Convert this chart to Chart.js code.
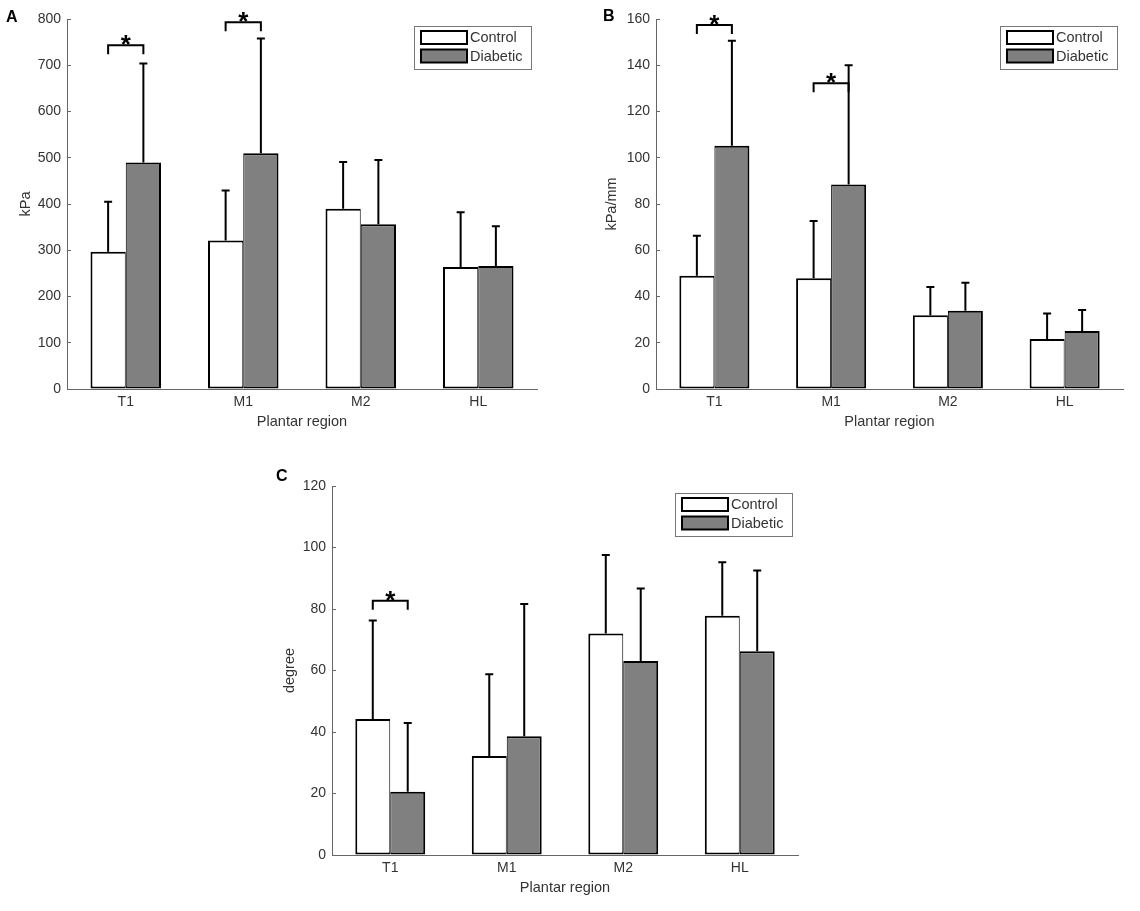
<!DOCTYPE html>
<html>
<head>
<meta charset="utf-8">
<title>Plantar region charts</title>
<script src="https://cdn.jsdelivr.net/npm/chart.js@4.4.1/dist/chart.umd.min.js"></script>
<style>
  body { margin: 0; background: #fff; }
  #page { position: relative; width: 1140px; height: 911px; }
  canvas { position: absolute; }
</style>
</head>
<body>
<div id="page">
  <canvas id="chartA" width="560" height="440" style="left:0;top:0"></canvas>
  <canvas id="chartB" width="570" height="440" style="left:570px;top:0"></canvas>
  <canvas id="chartC" width="560" height="451" style="left:270px;top:460px"></canvas>
</div>
<script>
// Data
const regions = ["T1", "M1", "M2", "HL"];
const groups = ["Control", "Diabetic"];

// A - peak pressure (kPa)
const pressureControl = [297, 321, 390, 264];
const pressureControlSD = [108, 108, 101, 118];
const pressureDiabetic = [490, 510, 356, 266];
const pressureDiabeticSD = [214, 248, 139, 86];
const pressureSig = [{ at: 0, value: 743 }, { at: 1, value: 793 }];

// B - stiffness (kPa/mm)
const stiffControl = [49.0, 47.9, 31.9, 21.6];
const stiffControlSD = [17.3, 24.7, 12.2, 11.1];
const stiffDiabetic = [105.2, 88.4, 33.8, 25.1];
const stiffDiabeticSD = [45.4, 51.6, 12.2, 9.1];
const stiffSig = [{ at: 0, value: 157.4 }, { at: 1, value: 132.2 }];

// C - angle (degree)
const angleControl = [44.2, 32.2, 72.0, 77.8];
const angleControlSD = [32.1, 26.6, 25.6, 17.4];
const angleDiabetic = [20.6, 38.6, 63.1, 66.3];
const angleDiabeticSD = [22.3, 43.0, 23.6, 26.2];
const angleSig = [{ at: 0, value: 82.7 }];

const FONT = "'Liberation Sans', Arial, sans-serif";
const TEXT = "#333";
const AXIS = "#666";

// error bars (upper only), significance brackets, legend box and panel letter
const extrasPlugin = {
  id: "extras",
  afterDatasetsDraw(chart, args, opts) {
    const ctx = chart.ctx;
    const y = chart.scales.y;
    ctx.save();
    ctx.strokeStyle = "#000";
    ctx.lineWidth = 2;
    chart.data.datasets.forEach((ds, i) => {
      chart.getDatasetMeta(i).data.forEach((bar, j) => {
        const top = y.getPixelForValue(ds.data[j] + ds.sd[j]);
        ctx.beginPath();
        ctx.moveTo(bar.x, bar.y);
        ctx.lineTo(bar.x, top);
        ctx.moveTo(bar.x - 4, top);
        ctx.lineTo(bar.x + 4, top);
        ctx.stroke();
      });
    });

    // brackets with star
    opts.sig.forEach(s => {
      const x1 = chart.getDatasetMeta(0).data[s.at].x;
      const x2 = chart.getDatasetMeta(1).data[s.at].x;
      const yv = y.getPixelForValue(s.value);
      ctx.beginPath();
      ctx.moveTo(x1, yv + 9);
      ctx.lineTo(x1, yv);
      ctx.lineTo(x2, yv);
      ctx.lineTo(x2, yv + 9);
      ctx.stroke();
      ctx.fillStyle = "#000";
      ctx.font = "bold 26px " + FONT;
      ctx.textAlign = "center";
      ctx.textBaseline = "alphabetic";
      ctx.fillText("*", (x1 + x2) / 2, yv + 8);
    });
    ctx.restore();
  },
  afterDraw(chart, args, opts) {
    const ctx = chart.ctx;
    const ca = chart.chartArea;
    ctx.save();
    // legend
    const w = 117, h = 43;
    const left = ca.right - 6 - w;
    const top = ca.top + 7;
    ctx.fillStyle = "#fff";
    ctx.fillRect(left, top, w, h);
    ctx.strokeStyle = "#777";
    ctx.lineWidth = 1;
    ctx.strokeRect(left + 0.5, top + 0.5, w, h);
    chart.data.datasets.forEach((ds, i) => {
      const sy = top + 5 + i * 18.5;
      ctx.fillStyle = ds.backgroundColor;
      ctx.fillRect(left + 7, sy, 46, 13);
      ctx.strokeStyle = "#000";
      ctx.lineWidth = 2;
      ctx.strokeRect(left + 7, sy, 46, 13);
      ctx.fillStyle = TEXT;
      ctx.font = "14.5px " + FONT;
      ctx.textAlign = "left";
      ctx.textBaseline = "middle";
      ctx.fillText(ds.label, left + 56, sy + 7);
    });
    // panel letter
    ctx.fillStyle = "#000";
    ctx.font = "bold 16px " + FONT;
    ctx.textAlign = "left";
    ctx.textBaseline = "alphabetic";
    ctx.fillText(opts.letter, opts.letterX, opts.letterY);
    ctx.restore();
  }
};

function makeChart(id, cfg) {
  const datasets = [
    {
      label: groups[0],
      data: cfg.control,
      sd: cfg.controlSD,
      backgroundColor: "#ffffff",
      borderWidth: { top: 2, left: 2, bottom: 2, right: 1 }
    },
    {
      label: groups[1],
      data: cfg.diabetic,
      sd: cfg.diabeticSD,
      backgroundColor: "#808080",
      borderWidth: { top: 2, left: 1, bottom: 2, right: 2 }
    }
  ];
  datasets.forEach(d => {
    d.borderColor = "#000";
    d.borderSkipped = false;
    d.categoryPercentage = 0.6;
    d.barPercentage = 1.0;
  });

  return new Chart(document.getElementById(id), {
    type: "bar",
    data: { labels: regions, datasets: datasets },
    options: {
      responsive: false,
      animation: false,
      devicePixelRatio: 1,
      layout: { padding: { left: 0, top: cfg.padTop, right: cfg.padRight, bottom: 0 } },
      plugins: {
        legend: { display: false },
        tooltip: { enabled: false },
        extras: { sig: cfg.sig, letter: cfg.letter, letterX: cfg.letterX, letterY: cfg.letterY }
      },
      scales: {
        x: {
          grid: { display: false, drawTicks: false },
          border: { display: true, color: AXIS, width: 1 },
          ticks: { color: TEXT, font: { family: FONT, size: 14 }, padding: 5 },
          title: { display: true, text: "Plantar region", color: TEXT, font: { family: FONT, size: 14.5 }, padding: { top: 0, bottom: cfg.xTitlePad } },
          afterFit: s => { s.height = cfg.xHeight; }
        },
        y: {
          min: 0,
          max: cfg.max,
          ticks: { stepSize: cfg.step, color: TEXT, font: { family: FONT, size: 14 }, padding: 10 },
          grid: { drawOnChartArea: false, tickLength: -4, color: AXIS },
          border: { display: true, color: AXIS, width: 1 },
          title: { display: true, text: cfg.yTitle, color: TEXT, font: { family: FONT, size: 14.5 }, padding: { top: cfg.yTitlePad, bottom: 0 } },
          afterFit: s => { s.width = cfg.yWidth; }
        }
      }
    },
    plugins: [extrasPlugin]
  });
}

makeChart("chartA", {
  control: pressureControl, controlSD: pressureControlSD,
  diabetic: pressureDiabetic, diabeticSD: pressureDiabeticSD,
  sig: pressureSig, max: 800, step: 100, yTitle: "kPa",
  padTop: 19, padRight: 23, yWidth: 67, xHeight: 51,
  yTitlePad: 17, xTitlePad: 9.5,
  letter: "A", letterX: 6, letterY: 22
});

makeChart("chartB", {
  control: stiffControl, controlSD: stiffControlSD,
  diabetic: stiffDiabetic, diabeticSD: stiffDiabeticSD,
  sig: stiffSig, max: 160, step: 20, yTitle: "kPa/mm",
  padTop: 19, padRight: 17, yWidth: 86, xHeight: 51,
  yTitlePad: 33, xTitlePad: 9.5,
  letter: "B", letterX: 33, letterY: 21
});

makeChart("chartC", {
  control: angleControl, controlSD: angleControlSD,
  diabetic: angleDiabetic, diabeticSD: angleDiabeticSD,
  sig: angleSig, max: 120, step: 20, yTitle: "degree",
  padTop: 26, padRight: 32, yWidth: 62, xHeight: 56,
  yTitlePad: 11.5, xTitlePad: 14.5,
  letter: "C", letterX: 6, letterY: 21
});
</script>
</body>
</html>
